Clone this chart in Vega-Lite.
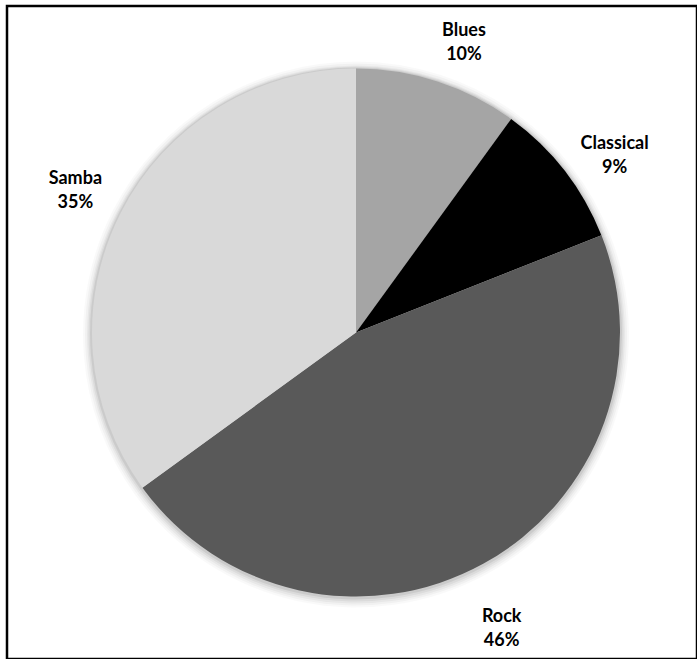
{
  "$schema": "https://vega.github.io/schema/vega-lite/v6.json",
  "width": 690,
  "height": 653,
  "autosize": "none",
  "padding": {"left": 7, "top": 6, "right": 0, "bottom": 0},
  "background": "white",
  "view": {"stroke": "black", "strokeWidth": 2.5},
  "config": {
    "view": {"stroke": "black", "strokeWidth": 2.5},
    "text": {"font": "Lato", "fontWeight": "bold", "fontSize": 18, "lineBreak": "\n", "lineHeight": 24}
  },
  "data": {
    "values": [
      {"genre": "Blues", "share": 10},
      {"genre": "Classical", "share": 9},
      {"genre": "Rock", "share": 46},
      {"genre": "Samba", "share": 35}
    ]
  },
  "transform": [
    {"calculate": "datum.genre + '\\n' + datum.share + '%'", "as": "label"}
  ],
  "encoding": {
    "theta": {"field": "share", "type": "quantitative", "stack": true},
    "order": {"field": "genre", "sort": "ascending"}
  },
  "layer": [
    {"mark": {"type": "arc", "outerRadius": 273, "xOffset": 4, "yOffset": 2, "color": "#000000", "opacity": 0.025}},
    {"mark": {"type": "arc", "outerRadius": 271, "xOffset": 4, "yOffset": 2, "color": "#000000", "opacity": 0.03}},
    {"mark": {"type": "arc", "outerRadius": 269, "xOffset": 4, "yOffset": 2, "color": "#000000", "opacity": 0.04}},
    {"mark": {"type": "arc", "outerRadius": 267.5, "xOffset": 4, "yOffset": 1.5, "color": "#000000", "opacity": 0.05}},
    {"mark": {"type": "arc", "outerRadius": 266, "xOffset": 4, "yOffset": 1, "color": "#000000", "opacity": 0.07}},
    {
      "mark": {"type": "arc", "outerRadius": 264, "xOffset": 4},
      "encoding": {
        "color": {
          "field": "genre",
          "type": "nominal",
          "scale": {"domain": ["Blues", "Classical", "Rock", "Samba"], "range": ["#a5a5a5", "#000000", "#595959", "#d9d9d9"]},
          "legend": null
        }
      }
    },
    {
      "mark": {"type": "text", "radius": 320, "thetaOffset": 0.03, "xOffset": 4, "align": "center", "baseline": "middle", "color": "#000000"},
      "encoding": {
        "text": {"field": "label", "type": "nominal"}
      }
    }
  ]
}
